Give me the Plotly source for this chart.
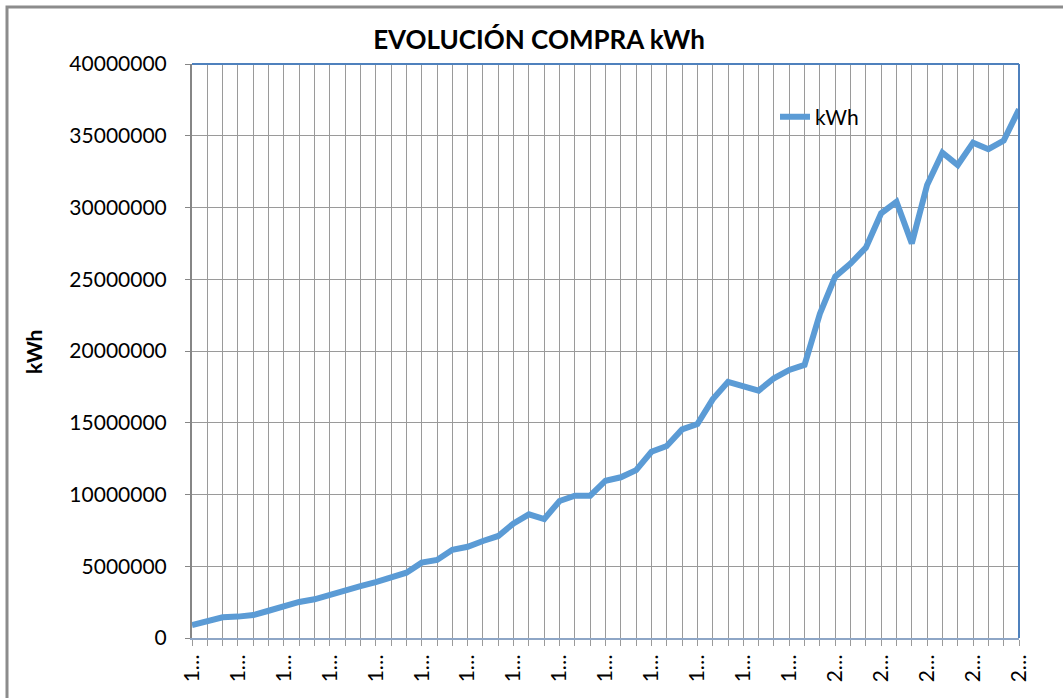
import plotly.graph_objects as go

# Data
years = [str(y) for y in range(1958, 2013)]
kwh = [
    900000, 1140000, 1440000, 1490000, 1600000, 1900000, 2250000, 2510000, 2700000, 3040000,
    3320000, 3620000, 3900000, 4250000, 4550000, 5250000, 5440000, 6150000, 6360000, 6760000,
    7110000, 7990000, 8620000, 8290000, 9550000, 9920000, 9920000, 10960000, 11200000, 11700000,
    12980000, 13380000, 14540000, 14910000, 16630000, 17850000, 17500000, 17240000, 18100000, 18680000,
    19030000, 22600000, 25180000, 26100000, 27200000, 29600000, 30400000, 27500000, 31570000, 33820000,
    32960000, 34520000, 34060000, 34660000, 36840000,
]
y_ticks = [0, 5000000, 10000000, 15000000, 20000000, 25000000, 30000000, 35000000, 40000000]

tick_text = [(y[0] + "…") if i % 3 == 0 else "" for i, y in enumerate(years)]

FONT = "Lato"

fig = go.Figure()
fig.add_trace(go.Scatter(
    x=years, y=kwh, mode="lines", name="kWh",
    line=dict(color="#5B9BD5", width=6),
))

fig.update_layout(
    width=1063, height=698,
    margin=dict(l=192, r=44, t=64, b=60),
    paper_bgcolor="white", plot_bgcolor="white",
    font=dict(family=FONT, size=21, color="#000000"),
    title=dict(text="<b>EVOLUCIÓN COMPRA kWh</b>", x=539 / 1063, xanchor="center",
               y=1 - 40 / 698, yanchor="middle", font=dict(family=FONT, size=26, color="#000000")),
    showlegend=True,
    legend=dict(x=(775 - 192) / 827, y=(638 - 117) / 574, xanchor="left", yanchor="middle",
                bgcolor="rgba(0,0,0,0)", font=dict(family=FONT, size=21)),
    xaxis=dict(
        type="category", range=[0, len(years) - 1],
        tickmode="array", tickvals=years, ticktext=tick_text, tickangle=-90,
        showgrid=True, gridcolor="#9A9A9A", gridwidth=1,
        showline=True, linecolor="#8EA6C6", linewidth=2,
        ticks="outside", ticklen=6, tickcolor="#9A9A9A",
        tickfont=dict(family=FONT, size=21),
        zeroline=False,
    ),
    yaxis=dict(
        range=[0, 40000000], tickmode="array", tickvals=y_ticks,
        ticktext=[str(v) for v in y_ticks],
        showgrid=True, gridcolor="#9A9A9A", gridwidth=1,
        showline=True, linecolor="#868686", linewidth=2,
        ticks="outside", ticklen=5, tickcolor="#868686",
        ticklabelstandoff=14,
        tickfont=dict(family=FONT, size=21),
        zeroline=False,
    ),
    shapes=[
        dict(type="line", xref="paper", yref="paper", x0=0, x1=1, y0=1, y1=1,
             line=dict(color="#4F81BD", width=2)),
        dict(type="line", xref="paper", yref="paper", x0=1, x1=1, y0=0, y1=1,
             line=dict(color="#4F81BD", width=2)),
        dict(type="rect", xref="paper", yref="paper",
             x0=(7 - 192) / 827, x1=(1100 - 192) / 827,
             y0=(638 - 720) / 574, y1=(638 - 7) / 574,
             line=dict(color="#8C8C8C", width=3), layer="below"),
    ],
    annotations=[
        dict(text="<b>kWh</b>", xref="paper", yref="paper",
             x=(33 - 192) / 827, y=(638 - 352) / 574, xanchor="center", yanchor="middle",
             textangle=-90, showarrow=False, font=dict(family=FONT, size=21, color="#000000")),
    ],
)

fig.write_html("out.html", config={"displayModeBar": False},
               post_script="document.body.style.margin='0';document.body.style.overflow='hidden';")
